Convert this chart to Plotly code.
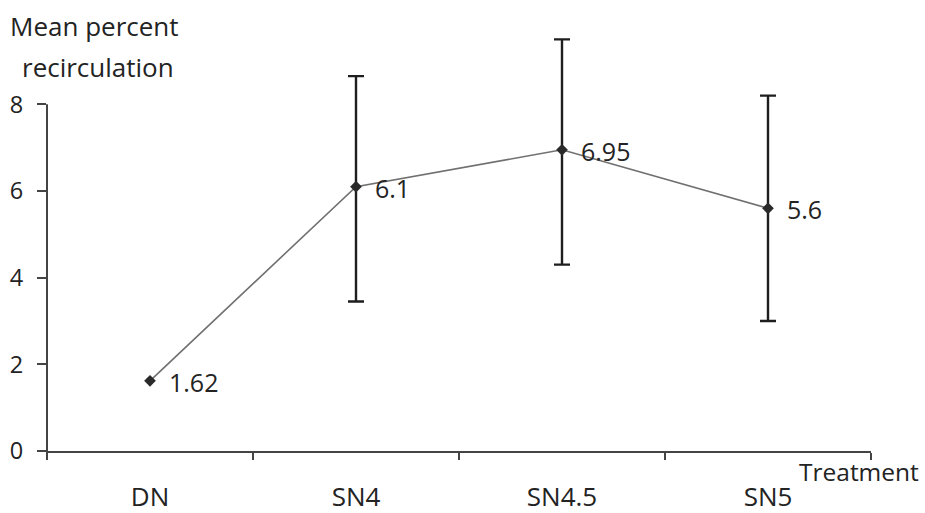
import plotly.graph_objects as go

categories = ["DN", "SN4", "SN4.5", "SN5"]
means = [1.62, 6.1, 6.95, 5.6]
err_plus = [0, 2.55, 2.55, 2.6]
err_minus = [0, 2.65, 2.65, 2.6]
labels = ["1.62", "6.1", "6.95", "5.6"]
y_ticks = [0, 2, 4, 6, 8]

FONT = "Open Sans"
TXT = "#232323"
L, R, T, B = 47, 54, 35, 62
PW = 925 - L - R
PH = 513 - T - B

fig = go.Figure()
fig.add_trace(go.Scatter(
    x=categories, y=means, mode="lines",
    line=dict(color="#707070", width=1.6), hoverinfo="skip", showlegend=False))
# error bars (only on SN points)
fig.add_trace(go.Scatter(
    x=categories[1:], y=means[1:], mode="markers",
    marker=dict(size=0.1, color="rgba(0,0,0,0)"),
    error_y=dict(type="data", symmetric=False, array=err_plus[1:], arrayminus=err_minus[1:],
                 color="#1e1e1e", thickness=2.4, width=8),
    showlegend=False))
fig.add_trace(go.Scatter(
    x=categories, y=means, mode="markers",
    marker=dict(symbol="diamond", size=9, color="#2a2a2a"),
    showlegend=False))

for c, v, t in zip(categories, means, labels):
    fig.add_annotation(x=c, y=v, text=t, showarrow=False, xanchor="left",
                       yanchor="middle", xshift=17, yshift=-1,
                       font=dict(family=FONT, size=25, color=TXT))

# y axis line only from 0 to 8
fig.add_shape(type="line", xref="paper", yref="y", x0=0, x1=0, y0=0, y1=max(y_ticks),
              line=dict(color="#444444", width=2))
# small extension of y axis below x axis
fig.add_shape(type="line", xref="paper", yref="paper", x0=0, x1=0, y0=0, y1=-7 / PH,
              line=dict(color="#444444", width=2))

fig.add_annotation(xref="paper", yref="paper", x=(8 - L) / PW, y=1, text="Mean percent",
                   showarrow=False, xanchor="left", yanchor="middle", yshift=T - 26,
                   font=dict(family=FONT, size=26, color=TXT))
fig.add_annotation(xref="paper", yref="paper", x=(20 - L) / PW, y=1, text="recirculation",
                   showarrow=False, xanchor="left", yanchor="middle", yshift=T - 67,
                   font=dict(family=FONT, size=26, color=TXT))
fig.add_annotation(xref="paper", yref="paper", x=(797 - L) / PW, y=0, text="Treatment",
                   showarrow=False, xanchor="left", yanchor="middle", yshift=(513 - B) - 471,
                   font=dict(family=FONT, size=24.5, color=TXT))

fig.update_layout(
    width=925, height=513,
    margin=dict(l=L, r=R, t=T, b=B, autoexpand=False),
    paper_bgcolor="white", plot_bgcolor="white",
    font=dict(family=FONT, size=22, color=TXT),
    xaxis=dict(type="category", range=[-0.5, 3.5], showline=True, linecolor="#444444",
               linewidth=2, ticks="outside", tickson="boundaries", ticklen=7,
               tickcolor="#444444", tickwidth=1.5, showgrid=False, zeroline=False,
               ticklabelstandoff=22, automargin=False,
               tickfont=dict(family=FONT, size=26, color=TXT)),
    yaxis=dict(range=[0, 9.6], tickvals=y_ticks, showline=False, ticks="outside",
               ticklen=9, tickcolor="#444444", tickwidth=1.5, showgrid=False,
               zeroline=False, ticklabelstandoff=9, automargin=False,
               tickfont=dict(family=FONT, size=23.5, color=TXT)),
)

fig.write_html("out.html")
